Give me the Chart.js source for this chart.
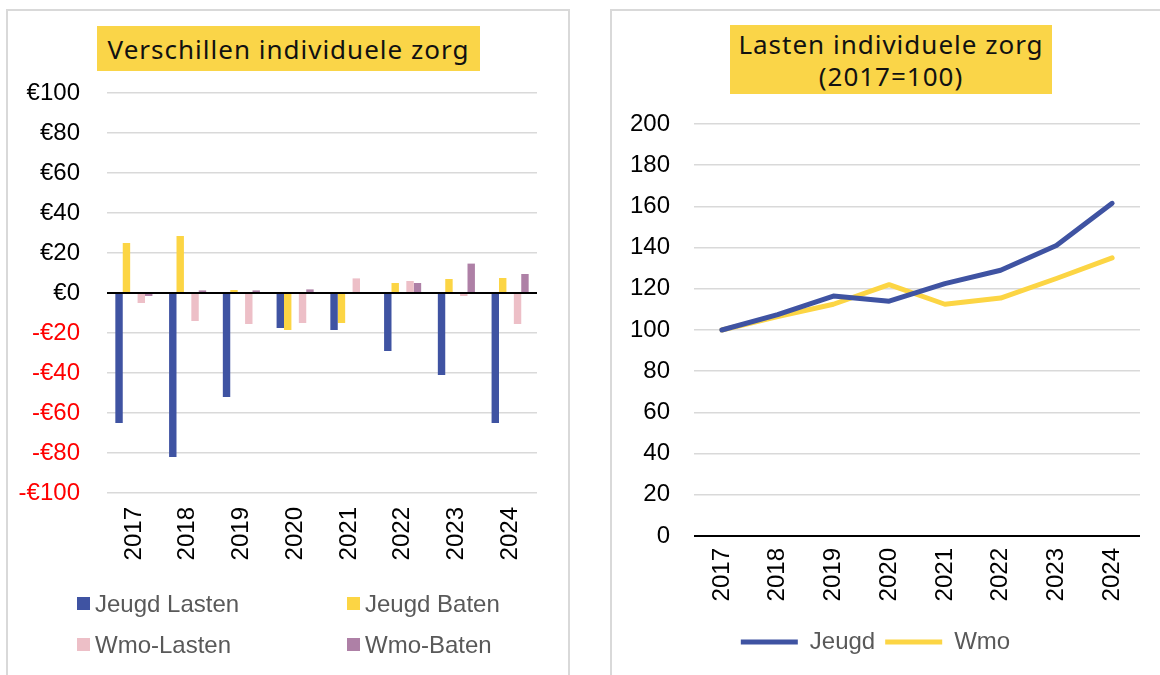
<!DOCTYPE html>
<html>
<head>
<meta charset="utf-8">
<script src="https://cdn.jsdelivr.net/npm/chart.js@4.4.1/dist/chart.umd.min.js"></script>
<style>
  body { margin: 0; width: 1160px; height: 675px; overflow: hidden; background: #fff; position: relative; font-family: "Liberation Sans", Arial, sans-serif; }
  .panel { position: absolute; border: 2px solid #d9d9d9; box-sizing: border-box; }
  .title { position: absolute; background: #fad548; color: #111; font-family: "Noto Sans", sans-serif; letter-spacing: 1px; text-align: center; display: flex; align-items: center; justify-content: center; }
  .box { position: absolute; }
  .leg { position: absolute; display: flex; align-items: center; font-size: 24px; color: #595959; white-space: nowrap; }
  .leg span.sq { width: 13px; height: 13px; margin-right: 5px; display: inline-block; }
</style>
</head>
<body>
<div class="panel" style="left:6px; top:9px; width:564px; height:700px;"></div>
<div class="panel" style="left:610px; top:9px; width:600px; height:700px;"></div>

<div class="box" style="left:0; top:0; width:580px; height:675px;"><canvas id="left" width="580" height="675"></canvas></div>
<div class="box" style="left:611px; top:0; width:566px; height:675px;"><canvas id="right" width="566" height="675"></canvas></div>

<div class="title" style="left:97px; top:26px; width:383px; height:45px; font-size:26px;">Verschillen individuele zorg</div>
<div class="title" style="left:730px; top:25px; width:322px; height:69px; font-size:26px; line-height:32px;">Lasten individuele zorg<br>(2017=100)</div>

<div id="legendLeft"></div>

<script>
// data
var years = ["2017", "2018", "2019", "2020", "2021", "2022", "2023", "2024"];

var jeugdLasten = [-65, -82, -52, -17.5, -18.5, -29, -41, -65];
var jeugdBaten  = [25, 28.5, 1.5, -18.5, -15, 5, 7, 7.5];
var wmoLasten   = [-5, -14, -15.5, -15, 7.3, 6, -1.5, -15.5];
var wmoBaten    = [-1.5, 1.3, 1.3, 1.8, 0.5, 5, 14.7, 9.5];

var indexJeugd = [100, 107.5, 116.5, 114, 122.5, 129, 141, 161.5];
var indexWmo   = [100, 106.5, 112.5, 122, 112.5, 115.5, 125, 135];

var blauw = "#3f53a2";
var geel = "#fcd544";
var roze = "#edbfc7";
var paars = "#ae80a6";

var tickFont = { family: "'Liberation Sans', Arial, sans-serif", size: 24 };

// legenda links (html, twee kolommen)
var legendItems = [
  { text: "Jeugd Lasten", color: blauw, x: 77, y: 597 },
  { text: "Jeugd Baten", color: geel, x: 347, y: 597 },
  { text: "Wmo-Lasten", color: roze, x: 77, y: 638 },
  { text: "Wmo-Baten", color: paars, x: 347, y: 638 }
];
var legendDiv = document.getElementById("legendLeft");
legendItems.forEach(function (item) {
  var el = document.createElement("div");
  el.className = "leg";
  el.style.left = item.x + "px";
  el.style.top = (item.y - 6) + "px";
  el.style.height = "25px";
  el.innerHTML = '<span class="sq" style="background:' + item.color + '"></span>' + item.text;
  legendDiv.appendChild(el);
});

new Chart("left", {
  type: "bar",
  data: {
    labels: years,
    datasets: [
      { label: "Jeugd Lasten", data: jeugdLasten, backgroundColor: blauw },
      { label: "Jeugd Baten", data: jeugdBaten, backgroundColor: geel },
      { label: "", data: [], backgroundColor: "transparent" },
      { label: "Wmo-Lasten", data: wmoLasten, backgroundColor: roze },
      { label: "Wmo-Baten", data: wmoBaten, backgroundColor: paars }
    ]
  },
  options: {
    responsive: false,
    animation: false,
    datasets: { bar: { categoryPercentage: 0.69, barPercentage: 1 } },
    layout: { padding: { left: 0, right: 43, top: 93, bottom: 102 } },
    plugins: { legend: { display: false }, tooltip: { enabled: false } },
    scales: {
      x: {
        grid: { display: false, drawTicks: false },
        border: { display: false },
        ticks: { minRotation: 90, maxRotation: 90, color: "#000", font: tickFont, padding: 14 },
        afterFit: function (s) { s.height = 80; }
      },
      y: {
        min: -100,
        max: 100,
        border: { display: false },
        grid: {
          drawTicks: false,
          color: function (c) { return c.tick.value === 0 ? "#000" : "#d9d9d9"; },
          lineWidth: function (c) { return c.tick.value === 0 ? 2 : 1.5; }
        },
        ticks: {
          stepSize: 20,
          font: tickFont,
          padding: 27,
          color: function (c) { return c.tick.value < 0 ? "#ff0000" : "#000"; },
          callback: function (v) { return v < 0 ? "-€" + Math.abs(v) : "€" + v; }
        },
        afterFit: function (s) { s.width = 107; }
      }
    }
  }
});

new Chart("right", {
  type: "line",
  data: {
    labels: years,
    datasets: [
      { label: "Jeugd", data: indexJeugd, borderColor: blauw, backgroundColor: blauw },
      { label: "Wmo", data: indexWmo, borderColor: geel, backgroundColor: geel }
    ]
  },
  options: {
    responsive: false,
    animation: false,
    datasets: { line: { borderWidth: 5, pointRadius: 0, tension: 0, borderCapStyle: "round", borderJoinStyle: "round" } },
    layout: { padding: { left: 0, right: 37, top: 124, bottom: 11 } },
    plugins: {
      tooltip: { enabled: false },
      legend: {
        position: "bottom",
        labels: { usePointStyle: true, pointStyle: "line", pointStyleWidth: 57, color: "#595959", font: tickFont, padding: 10 }
      }
    },
    scales: {
      x: {
        offset: true,
        grid: { display: false, drawTicks: false },
        border: { display: false },
        ticks: { minRotation: 90, maxRotation: 90, color: "#000", font: tickFont, padding: 12 },
        afterFit: function (s) { s.height = 84; }
      },
      y: {
        min: 0,
        max: 200,
        border: { display: false },
        grid: {
          drawTicks: false,
          color: function (c) { return c.tick.value === 0 ? "#000" : "#d9d9d9"; },
          lineWidth: function (c) { return c.tick.value === 0 ? 2 : 1.5; }
        },
        ticks: { stepSize: 20, font: tickFont, color: "#000", padding: 24 },
        afterFit: function (s) { s.width = 83; }
      }
    }
  }
});
</script>
</body>
</html>
